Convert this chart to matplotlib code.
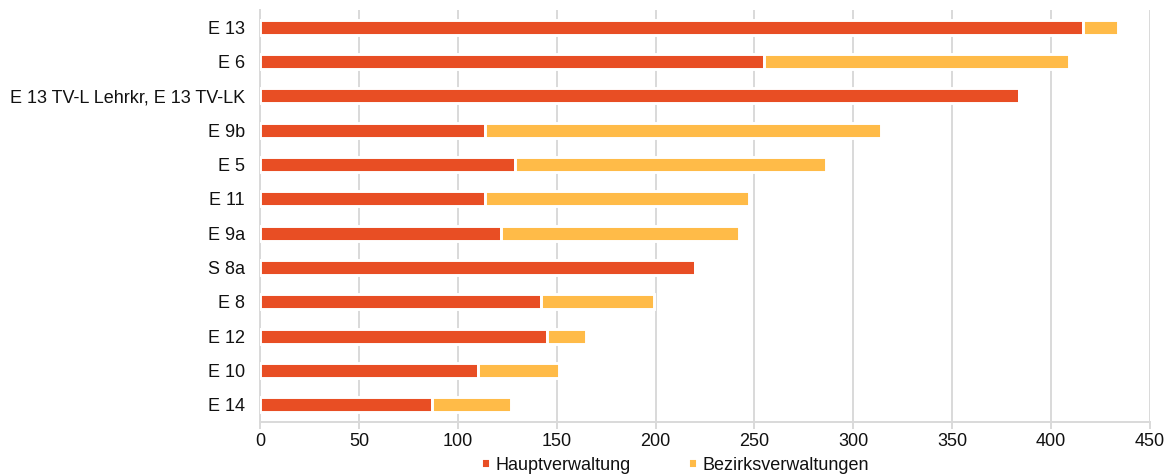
import matplotlib.pyplot as plt
import numpy as np

plt.rcParams["font.family"] = ["Liberation Sans", "DejaVu Sans"]

categories = [
    "E 13",
    "E 6",
    "E 13 TV-L Lehrkr, E 13 TV-LK",
    "E 9b",
    "E 5",
    "E 11",
    "E 9a",
    "S 8a",
    "E 8",
    "E 12",
    "E 10",
    "E 14",
]
hauptverwaltung = [416, 255, 384, 114, 129, 114, 122, 220, 142, 145, 110, 87]
bezirksverwaltungen = [18, 154, 0, 200, 157, 133, 120, 0, 57, 20, 41, 40]
x_ticks = [0, 50, 100, 150, 200, 250, 300, 350, 400, 450]

red = "#E84E24"
yellow = "#FFBB48"
grid_gray = "#D9D9D9"
text_color = "#111111"

fig = plt.figure(figsize=(11.7, 4.75), dpi=100)
ax = fig.add_axes([260 / 1170, 1 - 422 / 475, 890 / 1170, 412 / 475])

y = np.arange(len(categories))
bar_kw = dict(height=0.44, edgecolor="white", linewidth=2.1, zorder=3)
ax.barh(y, hauptverwaltung, color=red, label="Hauptverwaltung", **bar_kw)
ax.barh(y, bezirksverwaltungen, left=hauptverwaltung, color=yellow,
        label="Bezirksverwaltungen", **bar_kw)

ax.set_ylim(len(categories) - 0.5, -0.5)
ax.set_xlim(0, 450)
ax.set_xticks(x_ticks)
ax.set_yticks(y)
ax.set_yticklabels(categories)

ax.xaxis.grid(True, color=grid_gray, linewidth=1.4, zorder=0)
ax.set_axisbelow(True)
for side in ["top", "right"]:
    ax.spines[side].set_visible(False)
for side in ["left", "bottom"]:
    ax.spines[side].set_color(grid_gray)
    ax.spines[side].set_linewidth(1.4)

ax.tick_params(axis="y", length=0, pad=11, labelsize=13, colors=text_color)
ax.tick_params(axis="x", length=5, width=1.4, color=grid_gray, pad=3,
               labelsize=13, labelcolor=text_color)

handles, labels = ax.get_legend_handles_labels()
fig.legend(handles, labels, loc="center", bbox_to_anchor=(0.577, 0.021),
           ncol=2, frameon=False, fontsize=13, handlelength=0.5,
           handleheight=0.5, handletextpad=0.3, columnspacing=3.2,
           borderpad=0, labelcolor=text_color)

fig.savefig("out.png", dpi=100)
plt.close(fig)
